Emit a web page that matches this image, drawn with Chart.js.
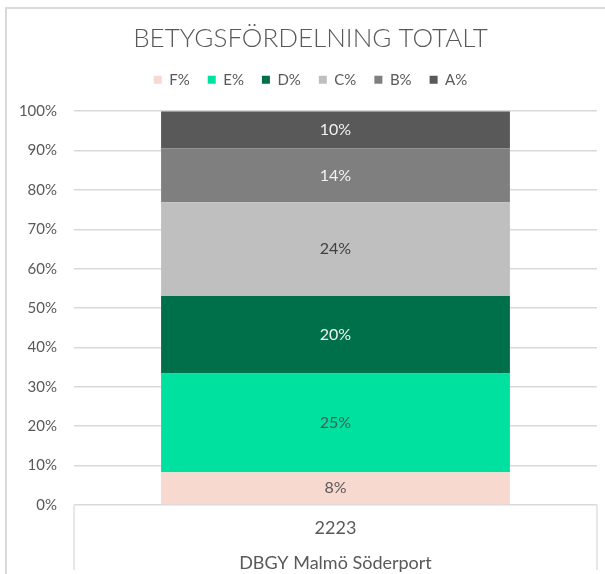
<!DOCTYPE html>
<html><head><meta charset="utf-8">
<script src="https://cdn.jsdelivr.net/npm/chart.js@4.4.0/dist/chart.umd.min.js"></script>
<style>html,body{margin:0;padding:0;background:#fff;}#wrap{position:relative;width:605px;height:574px;}</style>
</head><body><div id="wrap"><canvas id="c" width="605" height="574"></canvas></div>
<script>
// ---- data ----
const chartTitle = 'BETYGSFÖRDELNING TOTALT';
const categories = [['2223', 'DBGY Malmö Söderport']];
const seriesNames = ['F%', 'E%', 'D%', 'C%', 'B%', 'A%'];
const valuesF = [8.3];
const valuesE = [25.1];
const valuesD = [19.7];
const valuesC = [23.8];
const valuesB = [13.6];
const valuesA = [9.5];
const yTickLabels = ['0%', '10%', '20%', '30%', '40%', '50%', '60%', '70%', '80%', '90%', '100%'];

// ---- styles ----
const seriesColors = ['#F7D9CF', '#00E09F', '#00704B', '#BFBFBF', '#7F7F7F', '#595959'];
const labelColors = ['#595959', '#3f5f55', '#f2f2f2', '#404040', '#f2f2f2', '#f2f2f2'];
const FONT = 'Lato';
const TXT = '#595959';
const seriesValues = [valuesF, valuesE, valuesD, valuesC, valuesB, valuesA];

const framePlugin = {
  id: 'frame',
  beforeInit(chart) {
    const lg = chart.legend;
    if (lg && !lg._extraFit) {
      const orig = lg.fit;
      lg.fit = function () { orig.call(this); this.height += 14; };
      lg._extraFit = true;
    }
  },
  afterLayout(chart) {
    // header block (title + legend) is centred over the whole frame, not only the plot
    if (chart.titleBlock) chart.titleBlock.left = 24;
    if (chart.legend) chart.legend.left = 24;
  },
  beforeDraw(chart) {
    const ctx = chart.ctx;
    ctx.save();
    ctx.fillStyle = '#fff';
    ctx.fillRect(0, 0, chart.width, chart.height);
    ctx.strokeStyle = '#d9d9d9';
    ctx.lineWidth = 2;
    ctx.strokeRect(6, 8, chart.width + 20, chart.height + 20);
    ctx.restore();
  },
  afterDraw(chart) {
    const ctx = chart.ctx;
    const xs = chart.scales.x;
    const a = chart.chartArea;
    ctx.save();
    ctx.strokeStyle = '#e0e0e0';
    ctx.lineWidth = 1.5;
    ctx.beginPath();
    ctx.moveTo(xs.left, a.bottom);
    ctx.lineTo(xs.left, chart.height - 4);
    ctx.moveTo(xs.right, a.bottom);
    ctx.lineTo(xs.right, chart.height - 4);
    ctx.stroke();
    ctx.restore();
  }
};

const valueLabelPlugin = {
  id: 'valueLabels',
  afterDatasetsDraw(chart) {
    const ctx = chart.ctx;
    ctx.save();
    ctx.font = '16px ' + FONT;
    ctx.textAlign = 'center';
    ctx.textBaseline = 'middle';
    chart.data.datasets.forEach((ds, i) => {
      const meta = chart.getDatasetMeta(i);
      meta.data.forEach((el, j) => {
        const v = ds.data[j];
        ctx.fillStyle = labelColors[i];
        ctx.fillText(Math.round(v) + '%', el.x, (el.y + el.base) / 2);
      });
    });
    ctx.restore();
  }
};

new Chart(document.getElementById('c'), {
  type: 'bar',
  data: {
    labels: categories,
    datasets: seriesNames.map((n, i) => ({
      label: n,
      data: seriesValues[i],
      backgroundColor: seriesColors[i],
      borderWidth: 0,
      categoryPercentage: 0.667,
      barPercentage: 1.0
    }))
  },
  options: {
    responsive: false,
    animation: false,
    layout: { padding: { left: 0, right: 8, top: 23, bottom: 0 } },
    plugins: {
      title: {
        display: true,
        text: chartTitle,
        color: TXT,
        font: { family: FONT, size: 26, weight: 300 },
        padding: { top: 0, bottom: 0 }
      },
      legend: {
        display: true,
        position: 'top',
        labels: {
          color: TXT,
          font: { family: FONT, size: 15 },
          boxWidth: 8,
          boxHeight: 8,
          padding: 18
        }
      },
      tooltip: { enabled: false }
    },
    scales: {
      x: {
        stacked: true,
        grid: { display: false },
        border: { display: false },
        ticks: {
          color: TXT,
          font: { family: FONT, size: 18, lineHeight: 1.94 },
          padding: -2
        },
        afterFit(s) { s.height = 69; }
      },
      y: {
        stacked: true,
        min: 0,
        max: 100,
        grid: { color: '#d9d9d9', lineWidth: 1.5, drawTicks: false },
        border: { display: false },
        ticks: {
          stepSize: 10,
          color: TXT,
          font: { family: FONT, size: 15 },
          padding: 17,
          callback: (v) => yTickLabels[Math.round(v / 10)]
        },
        afterFit(s) { s.width = 74; }
      }
    }
  },
  plugins: [framePlugin, valueLabelPlugin]
});
</script>
</body></html>
